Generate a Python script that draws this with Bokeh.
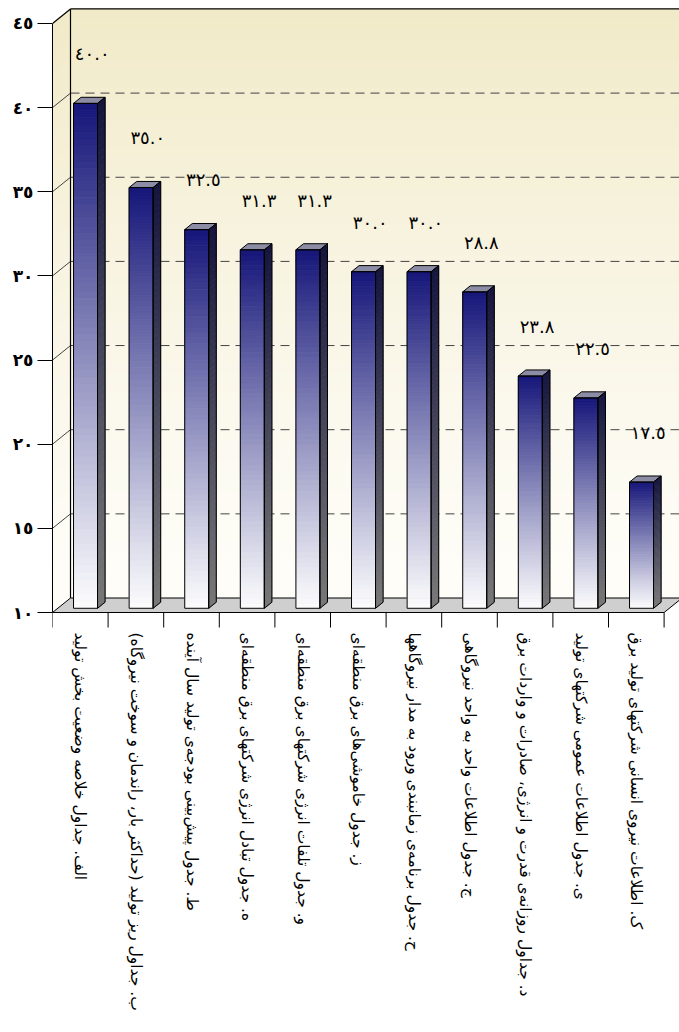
import numpy as np
from math import pi
from bokeh.plotting import figure
from bokeh.models import Range1d, FixedTicker
from bokeh.core.properties import value
from bokeh.embed import file_html
from bokeh.resources import INLINE

# ---------------- data ----------------
categories = [
    "الف. جداول خلاصه وضعیت بخش تولید",
    "ب. جداول ریز تولید (حداکثر بار، راندمان و سوخت نیروگاه)",
    "ط. جدول پیش‌بینی بودجه‌ی تولید سال آینده",
    "ه. جدول تبادل انرژی شرکتهای برق منطقه‌ای",
    "و. جدول تلفات انرژی شرکتهای برق منطقه‌ای",
    "ز. جدول خاموشی‌های برق منطقه‌ای",
    "ح. جدول برنامه‌ی زمانبندی ورود به مدار نیروگاهها",
    "ج. جدول اطلاعات واحد به واحد نیروگاهی",
    "د. جداول روزانه‌ی قدرت و انرژی، صادرات و واردات برق",
    "ی. جدول اطلاعات عمومی شرکتهای تولید",
    "ک. اطلاعات نیروی انسانی شرکتهای تولید برق",
]
values = [40.0, 35.0, 32.5, 31.3, 31.3, 30.0, 30.0, 28.8, 23.8, 22.5, 17.5]
y_ticks = [10, 15, 20, 25, 30, 35, 40, 45]

AR = str.maketrans("0123456789", "٠١٢٣٤٥٦٧٨٩")
def ar(s):
    return s.translate(AR)

value_labels = [ar(f"{v:.1f}") for v in values]
tick_labels = {t: ar(str(t)) for t in y_ticks}

# ---------------- layout (pixel based) ----------------
W, H = 679, 1032
LEFT = 52            # frame left edge (y axis line)
SLOT = 55.6          # px per category
Y0_PX = 612          # px row of value 10
PPU = 16.83          # px per value unit
YMIN, YMAX = 10, 45

x_lo = 0.5
x_hi = 0.5 + (W - LEFT) / SLOT
y_hi = YMIN + Y0_PX / PPU
y_lo = YMIN - (H - Y0_PX) / PPU

DX = 18 / SLOT       # depth offset in x units
DY = 14.5 / PPU      # depth offset in y units
BW = 24 / SLOT       # bar width
F0, F1 = 0.29, 0.71  # bar depth span

FONT = value("DejaVu Sans")

p = figure(width=W, height=H, x_range=Range1d(x_lo, x_hi), y_range=Range1d(y_lo, y_hi),
           toolbar_location=None, output_backend="svg", x_axis_location=None,
           min_border_left=LEFT, min_border_right=0, min_border_top=0, min_border_bottom=0)
p.outline_line_color = None
p.grid.visible = False
p.background_fill_color = "white"
p.border_fill_color = "white"

def mix(c1, c2, t):
    return "#%02x%02x%02x" % tuple(int(round(a + (b - a) * t)) for a, b in zip(c1, c2))

# ---------------- walls ----------------
wall_top = (241, 234, 200)
wall_bot = (254, 253, 248)
N = 60
wb, wt = YMIN + DY, YMAX + DY
edges = np.linspace(wb, wt, N + 1)
cols = [mix(wall_bot, wall_top, ((k + 0.5) / N) ** 1.3) for k in range(N)]
p.quad(left=x_lo + DX, right=x_hi + 1, bottom=edges[:-1], top=edges[1:],
       fill_color=cols, line_color=cols, line_width=1)

# side wall (parallelogram strips)
sedges = np.linspace(YMIN, YMAX, N + 1)
sxs, sys = [], []
for k in range(N):
    a, b = sedges[k], sedges[k + 1]
    sxs.append([x_lo, x_lo, x_lo + DX, x_lo + DX])
    sys.append([a, b, b + DY, a + DY])
p.patches(sxs, sys, fill_color=cols, line_color=cols, line_width=1)

# grid lines
grid = [t for t in y_ticks if YMIN < t < YMAX]
p.segment(x0=[x_lo + DX] * len(grid), y0=[g + DY for g in grid], x1=[x_hi] * len(grid),
          y1=[g + DY for g in grid], line_color="#444444", line_width=1, line_dash="9 6")
p.segment(x0=[x_lo] * len(grid), y0=grid, x1=[x_lo + DX] * len(grid),
          y1=[g + DY for g in grid], line_color="#444444", line_width=1)

# wall edges
p.segment(x0=[x_lo + DX, x_lo + DX, x_lo], y0=[YMAX + DY, YMIN + DY, YMAX],
          x1=[x_hi, x_lo + DX, x_lo + DX], y1=[YMAX + DY, YMAX + DY, YMAX + DY],
          line_color="black", line_width=1.2)

# floor
nc = len(categories)
x_end = 0.5 + nc
p.patch([x_lo, x_end, x_end + DX, x_lo + DX], [YMIN, YMIN, YMIN + DY, YMIN + DY],
        fill_color="#cfcfcf", line_color="black", line_width=1)

# category tick marks
bx = [0.5 + k for k in range(nc + 1)]
p.segment(x0=bx, y0=[YMIN] * len(bx), x1=bx, y1=[YMIN - 15 / PPU] * len(bx),
          line_color="black", line_width=1)

# ---------------- bars ----------------
navy = (22, 22, 122)
white = (252, 252, 253)
side_top = (20, 20, 62)
side_bot = (120, 120, 120)
NB = 70
fq = dict(left=[], right=[], bottom=[], top=[], color=[])
sx, sy, sc = [], [], []
ox, oy = [], []
tx, ty = [], []
ddx, ddy = (F1 - F0) * DX, (F1 - F0) * DY
for i, v in enumerate(values):
    c = i + 1
    xl = c - BW / 2 + F0 * DX
    xr = xl + BW
    yb = YMIN + F0 * DY
    yt = v + F0 * DY
    e = np.linspace(yb, yt, NB + 1)
    for k in range(NB):
        t = (k + 0.5) / NB
        fq["left"].append(xl); fq["right"].append(xr)
        fq["bottom"].append(e[k]); fq["top"].append(e[k + 1])
        fq["color"].append(mix(white, navy, t ** 1.05))
        sx.append([xr, xr + ddx, xr + ddx, xr])
        sy.append([e[k], e[k] + ddy, e[k + 1] + ddy, e[k + 1]])
        sc.append(mix(side_bot, side_top, t))
    ox += [[xl, xr, xr, xl], [xr, xr + ddx, xr + ddx, xr]]
    oy += [[yb, yb, yt, yt], [yb, yb + ddy, yt + ddy, yt]]
    tx.append([xl, xr, xr + ddx, xl + ddx])
    ty.append([yt, yt, yt + ddy, yt + ddy])

p.quad(left=fq["left"], right=fq["right"], bottom=fq["bottom"], top=fq["top"],
       fill_color=fq["color"], line_color=fq["color"], line_width=0.8)
p.patches(sx, sy, fill_color=sc, line_color=sc, line_width=0.8)
p.patches(tx, ty, fill_color="#8c8ca4", line_color="black", line_width=1)
p.patches(ox, oy, fill_color=None, line_color="black", line_width=1)

# value labels
p.text(x=[i + 1 + F0 * DX + 0.12 for i in range(nc)], y=[v + 3.2 for v in values],
       text=value_labels, text_font=FONT, text_font_size="18px",
       text_align="center", text_baseline="middle", text_color="black")

# category labels (rotated)
p.text(x=[i + 1 for i in range(nc)], y=[YMIN - 20 / PPU] * nc, text=categories,
       angle=-pi / 2, text_font=FONT, text_font_size="15.5px",
       text_align="left", text_baseline="middle", text_color="black")

# ---------------- y axis ----------------
ax = p.yaxis[0]
ax.ticker = FixedTicker(ticks=y_ticks)
ax.bounds = (YMIN, YMAX)
ax.major_label_overrides = tick_labels
ax.major_tick_out = 15
ax.major_tick_in = 0
ax.minor_tick_out = 0
ax.minor_tick_in = 0
ax.axis_line_color = "black"
ax.major_tick_line_color = "black"
ax.major_label_standoff = 4
ax.major_label_text_font = "DejaVu Sans"
ax.major_label_text_font_size = "17px"
ax.major_label_text_font_style = "bold"
ax.major_label_text_color = "black"

open("out.html", "w").write(file_html(p, INLINE))
